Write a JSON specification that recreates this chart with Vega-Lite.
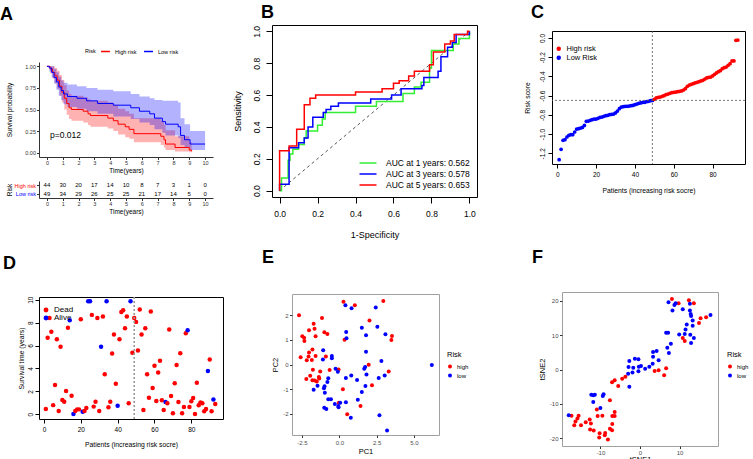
{
"$schema":"https://vega.github.io/schema/vega-lite/v6.json",
"padding":{"left":0,"top":0,"right":0,"bottom":0},
"background":"white",
"config":{
 "font":"Liberation Sans",
 "view":{"stroke":null},
 "axis":{"grid":false,"labelFont":"Liberation Sans","titleFont":"Liberation Sans","titleFontWeight":"normal","labelColor":"black","titleColor":"black","tickColor":"black","domainColor":"black","labelOverlap":false,"labelFlush":false},
 "legend":{"labelFont":"Liberation Sans","titleFont":"Liberation Sans","titleFontWeight":"normal","labelColor":"black","titleColor":"black"},
 "title":{"font":"Liberation Sans","fontSize":18,"fontWeight":"bold","anchor":"start","frame":"group","color":"black"}
},
"resolve":{"scale":{"color":"independent"}},
"concat":[
 {"resolve":{"scale":{"color":"independent"}},
  "concat":[
  {"resolve":{"scale":{"color":"independent"}},
   "vconcat":[
   {"width":1,"height":4,"view":{"stroke":"transparent"},"data":{"values":[]},"mark":"point"},
   {"resolve":{"scale":{"color":"independent"}},
    "vconcat":[
   {"width":174,"height":95,
    "title":{"text":"A","dx":-39,"offset":22},
    "layer":[
     {"data":{"values":[
      {"g":"High risk","t":0,"s":1,"lo":1,"hi":1},{"g":"High risk","t":0.2,"s":0.97,"lo":0.92,"hi":1},{"g":"High risk","t":0.35,"s":0.93,"lo":0.86,"hi":1},{"g":"High risk","t":0.5,"s":0.89,"lo":0.8,"hi":0.98},{"g":"High risk","t":0.65,"s":0.84,"lo":0.74,"hi":0.95},{"g":"High risk","t":0.8,"s":0.77,"lo":0.66,"hi":0.9},{"g":"High risk","t":0.95,"s":0.7,"lo":0.58,"hi":0.84},{"g":"High risk","t":1.1,"s":0.63,"lo":0.5,"hi":0.78},{"g":"High risk","t":1.25,"s":0.57,"lo":0.44,"hi":0.72},{"g":"High risk","t":1.4,"s":0.52,"lo":0.39,"hi":0.68},{"g":"High risk","t":1.55,"s":0.5,"lo":0.37,"hi":0.66},{"g":"High risk","t":2.3,"s":0.48,"lo":0.35,"hi":0.64},{"g":"High risk","t":2.6,"s":0.45,"lo":0.32,"hi":0.62},{"g":"High risk","t":2.75,"s":0.43,"lo":0.3,"hi":0.6},{"g":"High risk","t":3.85,"s":0.4,"lo":0.28,"hi":0.58},{"g":"High risk","t":4.2,"s":0.37,"lo":0.25,"hi":0.55},{"g":"High risk","t":4.5,"s":0.33,"lo":0.21,"hi":0.51},{"g":"High risk","t":4.95,"s":0.3,"lo":0.18,"hi":0.48},{"g":"High risk","t":5.2,"s":0.27,"lo":0.16,"hi":0.45},{"g":"High risk","t":5.5,"s":0.22,"lo":0.12,"hi":0.4},{"g":"High risk","t":7.2,"s":0.19,"lo":0.09,"hi":0.37},{"g":"High risk","t":7.4,"s":0.15,"lo":0.06,"hi":0.32},{"g":"High risk","t":7.5,"s":0.1,"lo":0.03,"hi":0.26},{"g":"High risk","t":8.1,"s":0.06,"lo":0.015,"hi":0.19},{"g":"High risk","t":9.0,"s":0.03,"lo":0.005,"hi":0.12},{"g":"High risk","t":9.15,"s":0.015,"lo":0,"hi":0.1},
      {"g":"Low risk","t":0,"s":1,"lo":1,"hi":1},{"g":"Low risk","t":0.15,"s":0.98,"lo":0.94,"hi":1},{"g":"Low risk","t":0.3,"s":0.93,"lo":0.87,"hi":1},{"g":"Low risk","t":0.45,"s":0.87,"lo":0.8,"hi":0.97},{"g":"Low risk","t":0.6,"s":0.82,"lo":0.73,"hi":0.93},{"g":"Low risk","t":0.75,"s":0.76,"lo":0.66,"hi":0.88},{"g":"Low risk","t":0.9,"s":0.72,"lo":0.61,"hi":0.84},{"g":"Low risk","t":1.05,"s":0.68,"lo":0.56,"hi":0.81},{"g":"Low risk","t":1.3,"s":0.65,"lo":0.53,"hi":0.79},{"g":"Low risk","t":1.9,"s":0.63,"lo":0.51,"hi":0.77},{"g":"Low risk","t":2.5,"s":0.6,"lo":0.48,"hi":0.75},{"g":"Low risk","t":3.2,"s":0.57,"lo":0.45,"hi":0.73},{"g":"Low risk","t":4.2,"s":0.55,"lo":0.42,"hi":0.71},{"g":"Low risk","t":5.3,"s":0.52,"lo":0.39,"hi":0.68},{"g":"Low risk","t":5.85,"s":0.48,"lo":0.35,"hi":0.65},{"g":"Low risk","t":6.5,"s":0.45,"lo":0.32,"hi":0.63},{"g":"Low risk","t":6.8,"s":0.4,"lo":0.27,"hi":0.61},{"g":"Low risk","t":7.3,"s":0.36,"lo":0.23,"hi":0.6},{"g":"Low risk","t":7.5,"s":0.33,"lo":0.2,"hi":0.6},{"g":"Low risk","t":8.3,"s":0.3,"lo":0.17,"hi":0.58},{"g":"Low risk","t":8.45,"s":0.2,"lo":0.09,"hi":0.4},{"g":"Low risk","t":8.7,"s":0.15,"lo":0.06,"hi":0.33},{"g":"Low risk","t":9.05,"s":0.1,"lo":0.03,"hi":0.25},{"g":"Low risk","t":10,"s":0.1,"lo":0.03,"hi":0.25}
     ]},
     "layer":[
      {"mark":{"type":"area","interpolate":"step-after","fillOpacity":0.3},
       "encoding":{
        "x":{"field":"t","type":"quantitative","scale":{"domain":[-0.5,10.5],"nice":false,"zero":false},"axis":{"values":[0,1,2,3,4,5,6,7,8,9,10],"labelOverlap":false,"title":"Time(years)","labelFontSize":5.5,"titleFontSize":6.5,"tickSize":2.5,"labelPadding":1,"titlePadding":1,"domainColor":"#333333","tickColor":"#333333","labelColor":"#333333"}},
        "y":{"field":"lo","type":"quantitative","scale":{"domain":[-0.05,1.05],"nice":false,"zero":false},"axis":{"values":[0,0.25,0.5,0.75,1],"labelOverlap":false,"format":".2f","title":"Survival probability","labelFontSize":5.5,"titleFontSize":6.5,"tickSize":2.5,"labelPadding":1,"titlePadding":12,"domainColor":"#333333","tickColor":"#333333","labelColor":"#333333"}},
        "y2":{"field":"hi"},
        "color":{"field":"g","type":"nominal","scale":{"domain":["High risk","Low risk"],"range":["#FF0000","#0000FF"]},"legend":{"orient":"none","legendX":46,"legendY":-16,"direction":"horizontal","title":"Risk","titleOrient":"left","titleFontSize":5.5,"labelFontSize":5.5,"symbolType":"stroke","symbolSize":80,"symbolStrokeWidth":1.5,"columnPadding":4,"titlePadding":4}}
       }},
      {"mark":{"type":"line","interpolate":"step-after","strokeWidth":1},
       "encoding":{
        "x":{"field":"t","type":"quantitative","axis":{"values":[0,1,2,3,4,5,6,7,8,9,10],"labelOverlap":false,"title":"Time(years)","labelFontSize":5.5,"titleFontSize":6.5,"tickSize":2.5,"labelPadding":1,"titlePadding":1,"domainColor":"#333333","tickColor":"#333333","labelColor":"#333333"}},
        "y":{"field":"s","type":"quantitative","axis":{"values":[0,0.25,0.5,0.75,1],"labelOverlap":false,"format":".2f","title":"Survival probability","labelFontSize":5.5,"titleFontSize":6.5,"tickSize":2.5,"labelPadding":1,"titlePadding":12,"domainColor":"#333333","tickColor":"#333333","labelColor":"#333333"}},
        "color":{"field":"g","type":"nominal"}
       }}
     ]},
     {"data":{"values":[{"t":0.2,"s":0.2,"label":"p=0.012"}]},
      "mark":{"type":"text","align":"left","baseline":"middle","fontSize":8.5,"font":"Liberation Sans"},
      "encoding":{
       "x":{"field":"t","type":"quantitative","axis":{"values":[0,1,2,3,4,5,6,7,8,9,10],"labelOverlap":false,"title":"Time(years)","labelFontSize":5.5,"titleFontSize":6.5,"tickSize":2.5,"labelPadding":1,"titlePadding":1,"domainColor":"#333333","tickColor":"#333333","labelColor":"#333333"}},
       "y":{"field":"s","type":"quantitative","axis":{"values":[0,0.25,0.5,0.75,1],"labelOverlap":false,"format":".2f","title":"Survival probability","labelFontSize":5.5,"titleFontSize":6.5,"tickSize":2.5,"labelPadding":1,"titlePadding":12,"domainColor":"#333333","tickColor":"#333333","labelColor":"#333333"}},
       "text":{"field":"label"}}}
    ]},
   {"width":174,"height":17,
    "data":{"values":[
     {"g":"High risk","t":0,"n":44},{"g":"High risk","t":1,"n":30},{"g":"High risk","t":2,"n":20},{"g":"High risk","t":3,"n":17},{"g":"High risk","t":4,"n":14},{"g":"High risk","t":5,"n":10},{"g":"High risk","t":6,"n":8},{"g":"High risk","t":7,"n":7},{"g":"High risk","t":8,"n":3},{"g":"High risk","t":9,"n":1},{"g":"High risk","t":10,"n":0},
     {"g":"Low risk","t":0,"n":49},{"g":"Low risk","t":1,"n":34},{"g":"Low risk","t":2,"n":29},{"g":"Low risk","t":3,"n":26},{"g":"Low risk","t":4,"n":25},{"g":"Low risk","t":5,"n":25},{"g":"Low risk","t":6,"n":21},{"g":"Low risk","t":7,"n":17},{"g":"Low risk","t":8,"n":14},{"g":"Low risk","t":9,"n":5},{"g":"Low risk","t":10,"n":0}
    ]},
    "mark":{"type":"text","fontSize":6,"font":"Liberation Sans","baseline":"middle"},
    "encoding":{
     "x":{"field":"t","type":"quantitative","scale":{"domain":[-0.5,10.5],"nice":false,"zero":false},"axis":{"values":[0,1,2,3,4,5,6,7,8,9,10],"labelOverlap":false,"title":"Time(years)","labelFontSize":5.5,"titleFontSize":6.5,"tickSize":2.5,"labelPadding":1,"titlePadding":1,"domainColor":"#333333","tickColor":"#333333","labelColor":"#333333"}},
     "y":{"field":"g","type":"nominal","sort":["High risk","Low risk"],"scale":{"type":"point","padding":0.5},"axis":{"title":"Risk","labelFontSize":5.5,"titleFontSize":6.5,"tickSize":2.5,"labelPadding":1,"titlePadding":2,"domainColor":"#333333","tickColor":"#333333","labelColor":{"condition":{"test":"datum.value === 'High risk'","value":"#FF0000"},"value":"#0000FF"}}},
     "text":{"field":"n","type":"quantitative"}
    }}
   ],"spacing":7}
  ],"spacing":0},
  {"resolve":{"scale":{"color":"independent"}},
   "concat":[
   {"resolve":{"scale":{"color":"independent"}},
    "vconcat":[
    {"width":1,"height":1,"view":{"stroke":"transparent"},"data":{"values":[]},"mark":"point"},
    {"width":205,"height":172,
    "view":{"stroke":"black","strokeWidth":1},
    "title":{"text":"B","dx":-11,"offset":3},
    "layer":[
     {"data":{"values":[{"x":0,"y":0,"x2":1,"y2":1}]},
      "mark":{"type":"rule","strokeDash":[3,3],"color":"#444444","strokeWidth":0.9},
      "encoding":{
       "x":{"field":"x","type":"quantitative","scale":{"domain":[-0.04,1.04],"nice":false,"zero":false},"axis":{"values":[0,0.2,0.4,0.6,0.8,1],"labelOverlap":false,"format":".1f","domain":false,"tickSize":6,"labelFontSize":8.5,"labelPadding":6,"title":"1-Specificity","titleFontSize":9,"titlePadding":13}},
       "y":{"field":"y","type":"quantitative","scale":{"domain":[-0.04,1.04],"nice":false,"zero":false},"axis":{"values":[0,0.2,0.4,0.6,0.8,1],"labelOverlap":false,"format":".1f","domain":false,"tickSize":6,"labelFontSize":8.5,"labelPadding":5,"labelAngle":-90,"labelAlign":"center","labelBaseline":"bottom","title":"Sensitivity","titleFontSize":9,"titlePadding":10}},
       "x2":{"field":"x2"},"y2":{"field":"y2"}}},
     {"data":{"values":[
      {"c":"AUC at 1 years: 0.562","i":0,"x":0,"y":0},{"c":"AUC at 1 years: 0.562","i":1,"x":0.01,"y":0.08},{"c":"AUC at 1 years: 0.562","i":2,"x":0.045,"y":0.19},{"c":"AUC at 1 years: 0.562","i":3,"x":0.055,"y":0.23},{"c":"AUC at 1 years: 0.562","i":4,"x":0.07,"y":0.26},{"c":"AUC at 1 years: 0.562","i":5,"x":0.1,"y":0.29},{"c":"AUC at 1 years: 0.562","i":6,"x":0.13,"y":0.33},{"c":"AUC at 1 years: 0.562","i":7,"x":0.14,"y":0.375},{"c":"AUC at 1 years: 0.562","i":8,"x":0.2,"y":0.41},{"c":"AUC at 1 years: 0.562","i":9,"x":0.225,"y":0.45},{"c":"AUC at 1 years: 0.562","i":10,"x":0.24,"y":0.49},{"c":"AUC at 1 years: 0.562","i":11,"x":0.4,"y":0.53},{"c":"AUC at 1 years: 0.562","i":12,"x":0.51,"y":0.56},{"c":"AUC at 1 years: 0.562","i":13,"x":0.65,"y":0.61},{"c":"AUC at 1 years: 0.562","i":14,"x":0.71,"y":0.65},{"c":"AUC at 1 years: 0.562","i":15,"x":0.745,"y":0.68},{"c":"AUC at 1 years: 0.562","i":16,"x":0.79,"y":0.77},{"c":"AUC at 1 years: 0.562","i":17,"x":0.8,"y":0.88},{"c":"AUC at 1 years: 0.562","i":18,"x":0.915,"y":0.92},{"c":"AUC at 1 years: 0.562","i":19,"x":0.945,"y":0.955},{"c":"AUC at 1 years: 0.562","i":20,"x":1,"y":0.97},{"c":"AUC at 1 years: 0.562","i":21,"x":1,"y":1},
      {"c":"AUC at 3 years: 0.578","i":0,"x":0,"y":0},{"c":"AUC at 3 years: 0.578","i":1,"x":0,"y":0.04},{"c":"AUC at 3 years: 0.578","i":2,"x":0.05,"y":0.27},{"c":"AUC at 3 years: 0.578","i":3,"x":0.1,"y":0.3},{"c":"AUC at 3 years: 0.578","i":4,"x":0.13,"y":0.33},{"c":"AUC at 3 years: 0.578","i":5,"x":0.15,"y":0.4},{"c":"AUC at 3 years: 0.578","i":6,"x":0.175,"y":0.46},{"c":"AUC at 3 years: 0.578","i":7,"x":0.23,"y":0.49},{"c":"AUC at 3 years: 0.578","i":8,"x":0.245,"y":0.51},{"c":"AUC at 3 years: 0.578","i":9,"x":0.27,"y":0.53},{"c":"AUC at 3 years: 0.578","i":10,"x":0.31,"y":0.55},{"c":"AUC at 3 years: 0.578","i":11,"x":0.48,"y":0.575},{"c":"AUC at 3 years: 0.578","i":12,"x":0.59,"y":0.6},{"c":"AUC at 3 years: 0.578","i":13,"x":0.64,"y":0.64},{"c":"AUC at 3 years: 0.578","i":14,"x":0.75,"y":0.66},{"c":"AUC at 3 years: 0.578","i":15,"x":0.76,"y":0.71},{"c":"AUC at 3 years: 0.578","i":16,"x":0.835,"y":0.75},{"c":"AUC at 3 years: 0.578","i":17,"x":0.85,"y":0.84},{"c":"AUC at 3 years: 0.578","i":18,"x":0.885,"y":0.9},{"c":"AUC at 3 years: 0.578","i":19,"x":0.91,"y":0.93},{"c":"AUC at 3 years: 0.578","i":20,"x":0.93,"y":0.98},{"c":"AUC at 3 years: 0.578","i":21,"x":1,"y":1},
      {"c":"AUC at 5 years: 0.653","i":0,"x":0,"y":0},{"c":"AUC at 5 years: 0.653","i":1,"x":0,"y":0.25},{"c":"AUC at 5 years: 0.653","i":2,"x":0.05,"y":0.28},{"c":"AUC at 5 years: 0.653","i":3,"x":0.09,"y":0.385},{"c":"AUC at 5 years: 0.653","i":4,"x":0.13,"y":0.54},{"c":"AUC at 5 years: 0.653","i":5,"x":0.16,"y":0.58},{"c":"AUC at 5 years: 0.653","i":6,"x":0.19,"y":0.6},{"c":"AUC at 5 years: 0.653","i":7,"x":0.4,"y":0.62},{"c":"AUC at 5 years: 0.653","i":8,"x":0.54,"y":0.64},{"c":"AUC at 5 years: 0.653","i":9,"x":0.6,"y":0.675},{"c":"AUC at 5 years: 0.653","i":10,"x":0.63,"y":0.69},{"c":"AUC at 5 years: 0.653","i":11,"x":0.68,"y":0.72},{"c":"AUC at 5 years: 0.653","i":12,"x":0.71,"y":0.75},{"c":"AUC at 5 years: 0.653","i":13,"x":0.79,"y":0.79},{"c":"AUC at 5 years: 0.653","i":14,"x":0.81,"y":0.87},{"c":"AUC at 5 years: 0.653","i":15,"x":0.87,"y":0.92},{"c":"AUC at 5 years: 0.653","i":16,"x":0.9,"y":0.94},{"c":"AUC at 5 years: 0.653","i":17,"x":0.92,"y":0.98},{"c":"AUC at 5 years: 0.653","i":18,"x":0.99,"y":1},{"c":"AUC at 5 years: 0.653","i":19,"x":1,"y":1}
     ]},
      "mark":{"type":"line","interpolate":"step-after","strokeWidth":1.5},
      "encoding":{
       "x":{"field":"x","type":"quantitative","axis":{"values":[0,0.2,0.4,0.6,0.8,1],"labelOverlap":false,"format":".1f","domain":false,"tickSize":6,"labelFontSize":8.5,"labelPadding":6,"title":"1-Specificity","titleFontSize":9,"titlePadding":13}},
       "y":{"field":"y","type":"quantitative","axis":{"values":[0,0.2,0.4,0.6,0.8,1],"labelOverlap":false,"format":".1f","domain":false,"tickSize":6,"labelFontSize":8.5,"labelPadding":5,"labelAngle":-90,"labelAlign":"center","labelBaseline":"bottom","title":"Sensitivity","titleFontSize":9,"titlePadding":10}},
       "order":{"field":"i","type":"quantitative"},
       "color":{"field":"c","type":"nominal","scale":{"domain":["AUC at 1 years: 0.562","AUC at 3 years: 0.578","AUC at 5 years: 0.653"],"range":["#33EE33","#0000FF","#FF0000"]},"legend":{"orient":"bottom-right","title":null,"symbolType":"M-1.7,0H1.7","symbolSize":100,"symbolStrokeWidth":1.5,"labelFontSize":8.5,"rowPadding":0,"offset":7,"padding":0,"labelOffset":12}}
      }}
    ]}],"spacing":0},
   {"resolve":{"scale":{"color":"independent"}},
    "vconcat":[
    {"width":1,"height":1,"view":{"stroke":"transparent"},"data":{"values":[]},"mark":"point"},
    {"width":193,"height":133,
    "view":{"stroke":"black","strokeWidth":1},
    "title":{"text":"C","dx":-21,"offset":9},
    "layer":[
     {"data":{"values":[
      {"i":1,"s":-1.266},{"i":2,"s":-1.158},{"i":3,"s":-1.065},{"i":4,"s":-1.058},{"i":5,"s":-1.03},{"i":6,"s":-1.013},{"i":7,"s":-1.006},{"i":8,"s":-1.006},{"i":9,"s":-0.978},{"i":10,"s":-0.947},{"i":11,"s":-0.944},{"i":12,"s":-0.937},{"i":13,"s":-0.93},{"i":14,"s":-0.91},{"i":15,"s":-0.867},{"i":16,"s":-0.864},{"i":17,"s":-0.857},{"i":18,"s":-0.85},{"i":19,"s":-0.843},{"i":20,"s":-0.843},{"i":21,"s":-0.836},{"i":22,"s":-0.826},{"i":23,"s":-0.822},{"i":24,"s":-0.815},{"i":25,"s":-0.808},{"i":26,"s":-0.805},{"i":27,"s":-0.798},{"i":28,"s":-0.794},{"i":29,"s":-0.791},{"i":30,"s":-0.78},{"i":31,"s":-0.76},{"i":32,"s":-0.735},{"i":33,"s":-0.718},{"i":34,"s":-0.715},{"i":35,"s":-0.711},{"i":36,"s":-0.711},{"i":37,"s":-0.708},{"i":38,"s":-0.704},{"i":39,"s":-0.701},{"i":40,"s":-0.694},{"i":41,"s":-0.687},{"i":42,"s":-0.68},{"i":43,"s":-0.676},{"i":44,"s":-0.669},{"i":45,"s":-0.669},{"i":46,"s":-0.662},{"i":47,"s":-0.659},{"i":48,"s":-0.652},{"i":49,"s":-0.649},
      {"i":50,"s":-0.638},{"i":51,"s":-0.624},{"i":52,"s":-0.617},{"i":53,"s":-0.614},{"i":54,"s":-0.607},{"i":55,"s":-0.6},{"i":56,"s":-0.59},{"i":57,"s":-0.583},{"i":58,"s":-0.576},{"i":59,"s":-0.569},{"i":60,"s":-0.565},{"i":61,"s":-0.562},{"i":62,"s":-0.558},{"i":63,"s":-0.555},{"i":64,"s":-0.551},{"i":65,"s":-0.541},{"i":66,"s":-0.527},{"i":67,"s":-0.503},{"i":68,"s":-0.489},{"i":69,"s":-0.482},{"i":70,"s":-0.475},{"i":71,"s":-0.468},{"i":72,"s":-0.461},{"i":73,"s":-0.454},{"i":74,"s":-0.447},{"i":75,"s":-0.44},{"i":76,"s":-0.427},{"i":77,"s":-0.416},{"i":78,"s":-0.409},{"i":79,"s":-0.406},{"i":80,"s":-0.395},{"i":81,"s":-0.378},{"i":82,"s":-0.364},{"i":83,"s":-0.35},{"i":84,"s":-0.34},{"i":85,"s":-0.319},{"i":86,"s":-0.309},{"i":87,"s":-0.302},{"i":88,"s":-0.284},{"i":89,"s":-0.267},{"i":90,"s":-0.239},{"i":91,"s":-0.239},{"i":92,"s":-0.024},{"i":93,"s":-0.021}
     ]},
      "transform":[{"calculate":"datum.i <= 49 ? 'Low Risk' : 'High risk'","as":"r"}],
      "mark":{"type":"circle","size":14,"opacity":1},
      "encoding":{
       "x":{"field":"i","type":"quantitative","scale":{"domain":[-2.68,96.68],"nice":false,"zero":false},"axis":{"values":[0,20,40,60,80],"labelOverlap":false,"domain":false,"tickSize":4,"labelFontSize":6.5,"labelPadding":3,"title":"Patients (increasing risk socre)","titleFontSize":6.8,"titlePadding":10}},
       "y":{"field":"s","type":"quantitative","scale":{"domain":[-1.311,0.073],"nice":false,"zero":false},"axis":{"values":[-1.2,-1,-0.8,-0.6,-0.4,-0.2,0],"labelOverlap":false,"format":".1f","labelExpr":"replace(datum.label, '\u2212', '-')","domain":false,"tickSize":4,"labelFontSize":6.5,"labelPadding":3,"labelAngle":-90,"labelAlign":"center","labelBaseline":"bottom","title":"Risk score","titleFontSize":6.8,"titlePadding":9}},
       "color":{"field":"r","type":"nominal","scale":{"domain":["High risk","Low Risk"],"range":["#FF0000","#0000FF"]},"legend":{"orient":"none","legendX":3,"legendY":14,"title":null,"labelFontSize":7.5,"symbolSize":20,"symbolType":"circle","padding":0,"rowPadding":0}}
      }},
     {"data":{"values":[{"i":49}]},"mark":{"type":"rule","strokeDash":[2,2],"color":"#555555","strokeWidth":0.8},"encoding":{"x":{"field":"i","type":"quantitative","axis":{"values":[0,20,40,60,80],"labelOverlap":false,"domain":false,"tickSize":4,"labelFontSize":6.5,"labelPadding":3,"title":"Patients (increasing risk socre)","titleFontSize":6.8,"titlePadding":10}}}},
     {"data":{"values":[{"s":-0.649}]},"mark":{"type":"rule","strokeDash":[2,2],"color":"#555555","strokeWidth":0.8},"encoding":{"y":{"field":"s","type":"quantitative","axis":{"values":[-1.2,-1,-0.8,-0.6,-0.4,-0.2,0],"labelOverlap":false,"format":".1f","labelExpr":"replace(datum.label, '\u2212', '-')","domain":false,"tickSize":4,"labelFontSize":6.5,"labelPadding":3,"labelAngle":-90,"labelAlign":"center","labelBaseline":"bottom","title":"Risk score","titleFontSize":6.8,"titlePadding":9}}}}
    ]}],"spacing":0}
  ],"columns":2,"align":"none","spacing":45}
 ],"columns":2,"align":"none","spacing":19},
 {"resolve":{"scale":{"color":"independent"}},
  "concat":[
  {"resolve":{"scale":{"color":"independent"}},
   "vconcat":[
   {"width":1,"height":11,"view":{"stroke":"transparent"},"data":{"values":[]},"mark":"point"},
   {"width":184,"height":122,
   "view":{"stroke":"black","strokeWidth":1},
   "title":{"text":"D","dx":-36,"offset":23},
   "layer":[
    {"data":{"values":[
     {"i":1,"y":0.46,"st":"Dead"},{"i":2,"y":6.67,"st":"Dead"},{"i":3,"y":8.4,"st":"Dead"},{"i":4,"y":7.2,"st":"Dead"},{"i":5,"y":0.8,"st":"Dead"},{"i":6,"y":2.55,"st":"Dead"},{"i":7,"y":6.55,"st":"Dead"},{"i":8,"y":0.29,"st":"Dead"},{"i":9,"y":5.9,"st":"Dead"},{"i":10,"y":1.25,"st":"Dead"},{"i":11,"y":1.1,"st":"Dead"},{"i":12,"y":2.03,"st":"Dead"},{"i":13,"y":7.54,"st":"Dead"},{"i":14,"y":8.2,"st":"Alive"},{"i":15,"y":1.62,"st":"Dead"},{"i":16,"y":0.03,"st":"Alive"},{"i":17,"y":0.29,"st":"Dead"},{"i":18,"y":0.43,"st":"Dead"},{"i":19,"y":0.43,"st":"Dead"},{"i":20,"y":8.29,"st":"Dead"},{"i":21,"y":0.23,"st":"Alive"},{"i":22,"y":0.29,"st":"Dead"},{"i":23,"y":0.55,"st":"Dead"},{"i":24,"y":9.86,"st":"Alive"},{"i":25,"y":9.86,"st":"Alive"},{"i":26,"y":8.67,"st":"Dead"},{"i":27,"y":0.67,"st":"Dead"},{"i":28,"y":1.1,"st":"Dead"},{"i":29,"y":8.4,"st":"Dead"},{"i":30,"y":0.29,"st":"Dead"},{"i":31,"y":5.9,"st":"Alive"},{"i":32,"y":8.52,"st":"Dead"},{"i":33,"y":3.5,"st":"Dead"},{"i":34,"y":9.86,"st":"Alive"},{"i":35,"y":0.61,"st":"Dead"},{"i":36,"y":1.1,"st":"Dead"},{"i":37,"y":5.3,"st":"Dead"},{"i":38,"y":6.96,"st":"Dead"},{"i":39,"y":2.67,"st":"Dead"},{"i":40,"y":0.75,"st":"Alive"},{"i":41,"y":6.55,"st":"Dead"},{"i":42,"y":8.93,"st":"Dead"},{"i":43,"y":9.07,"st":"Dead"},{"i":44,"y":7.5,"st":"Dead"},{"i":45,"y":8.52,"st":"Dead"},{"i":46,"y":0.96,"st":"Dead"},{"i":47,"y":9.86,"st":"Alive"},{"i":48,"y":5.36,"st":"Dead"},{"i":49,"y":8.4,"st":"Dead"},{"i":50,"y":8.06,"st":"Dead"},{"i":51,"y":5.56,"st":"Dead"},{"i":52,"y":9.14,"st":"Dead"},{"i":53,"y":6.96,"st":"Dead"},{"i":54,"y":0.38,"st":"Dead"},{"i":55,"y":7.5,"st":"Dead"},{"i":56,"y":3.5,"st":"Dead"},{"i":57,"y":1.45,"st":"Dead"},{"i":58,"y":8.96,"st":"Dead"},{"i":59,"y":2.3,"st":"Dead"},{"i":60,"y":4.23,"st":"Dead"},{"i":61,"y":1.16,"st":"Dead"},{"i":62,"y":3.65,"st":"Dead"},{"i":63,"y":4.67,"st":"Dead"},{"i":64,"y":1.22,"st":"Dead"},{"i":65,"y":0.38,"st":"Dead"},{"i":66,"y":1.07,"st":"Alive"},{"i":67,"y":0.96,"st":"Dead"},{"i":68,"y":7.4,"st":"Dead"},{"i":69,"y":1.59,"st":"Dead"},{"i":70,"y":0.09,"st":"Dead"},{"i":71,"y":2.7,"st":"Dead"},{"i":72,"y":4.3,"st":"Dead"},{"i":73,"y":1.07,"st":"Dead"},{"i":74,"y":5.33,"st":"Dead"},{"i":75,"y":0.09,"st":"Dead"},{"i":76,"y":0.64,"st":"Dead"},{"i":77,"y":7.07,"st":"Dead"},{"i":78,"y":7.33,"st":"Alive"},{"i":79,"y":0.64,"st":"Dead"},{"i":80,"y":1.13,"st":"Dead"},{"i":81,"y":1.42,"st":"Dead"},{"i":82,"y":0.03,"st":"Dead"},{"i":83,"y":2.75,"st":"Dead"},{"i":84,"y":0.78,"st":"Dead"},{"i":85,"y":1.04,"st":"Dead"},{"i":86,"y":0.96,"st":"Dead"},{"i":87,"y":0.26,"st":"Dead"},{"i":88,"y":0.46,"st":"Dead"},{"i":89,"y":3.77,"st":"Alive"},{"i":90,"y":4.78,"st":"Dead"},{"i":91,"y":0.26,"st":"Dead"},{"i":92,"y":1.3,"st":"Alive"},{"i":93,"y":0.9,"st":"Dead"}
    ]},
     "mark":{"type":"circle","size":20,"opacity":1},
     "encoding":{
      "x":{"field":"i","type":"quantitative","scale":{"domain":[-2.7,97.2],"nice":false,"zero":false},"axis":{"values":[0,20,40,60,80],"labelOverlap":false,"domain":false,"tickSize":4,"labelFontSize":6.5,"labelPadding":3,"title":"Patients (increasing risk socre)","titleFontSize":6.8,"titlePadding":9}},
      "y":{"field":"y","type":"quantitative","scale":{"domain":[-0.41,10.23],"nice":false,"zero":false},"axis":{"values":[0,2,4,6,8,10],"labelOverlap":false,"domain":false,"tickSize":4,"labelFontSize":6.5,"labelPadding":2,"labelAngle":-90,"labelAlign":"center","labelBaseline":"bottom","title":"Survival time (years)","titleFontSize":6.8,"titlePadding":3}},
      "color":{"field":"st","type":"nominal","scale":{"domain":["Dead","Alive"],"range":["#FF0000","#0000FF"]},"legend":{"orient":"none","legendX":3,"legendY":9,"title":null,"labelFontSize":8,"symbolSize":24,"symbolType":"circle","padding":0,"rowPadding":0}}
     }},
    {"data":{"values":[{"i":49}]},"mark":{"type":"rule","strokeDash":[2,2],"color":"#9A9A9A","strokeWidth":1.6},"encoding":{"x":{"field":"i","type":"quantitative","axis":{"values":[0,20,40,60,80],"labelOverlap":false,"domain":false,"tickSize":4,"labelFontSize":6.5,"labelPadding":3,"title":"Patients (increasing risk socre)","titleFontSize":6.8,"titlePadding":9}}}}
   ]}],"spacing":0},
  {"resolve":{"scale":{"color":"independent"}},
   "concat":[
   {"resolve":{"scale":{"color":"independent"}},
    "vconcat":[
    {"width":1,"height":5,"view":{"stroke":"transparent"},"data":{"values":[]},"mark":"point"},
    {"width":147,"height":141,
    "view":{"stroke":"#A0A0A0","strokeWidth":1},
    "title":{"text":"E","dx":-30,"offset":27},
    "data":{"values":[
     {"x":0.28,"y":2.54,"g":"high"},{"x":1.04,"y":2.4,"g":"high"},{"x":2.95,"y":2.57,"g":"high"},{"x":-2.7,"y":1.99,"g":"high"},{"x":-1.16,"y":1.88,"g":"high"},{"x":2.02,"y":1.78,"g":"high"},{"x":-1.72,"y":1.65,"g":"high"},{"x":-1.66,"y":1.45,"g":"high"},{"x":-2.03,"y":1.38,"g":"high"},{"x":-1.0,"y":1.3,"g":"high"},{"x":-0.8,"y":1.23,"g":"high"},{"x":-2.48,"y":1.14,"g":"high"},{"x":-2.36,"y":1.08,"g":"high"},{"x":-1.59,"y":1.14,"g":"high"},{"x":-2.34,"y":0.95,"g":"high"},{"x":0.35,"y":1.0,"g":"high"},{"x":3.53,"y":1.15,"g":"high"},{"x":3.49,"y":0.99,"g":"high"},{"x":-1.8,"y":0.61,"g":"high"},{"x":-2.03,"y":0.49,"g":"high"},{"x":-2.59,"y":0.29,"g":"high"},{"x":-2.06,"y":0.32,"g":"high"},{"x":-1.59,"y":0.34,"g":"high"},{"x":-0.9,"y":0.32,"g":"high"},{"x":-2.18,"y":0.17,"g":"high"},{"x":-1.84,"y":0.18,"g":"high"},{"x":-1.77,"y":-0.21,"g":"high"},{"x":-0.65,"y":-0.22,"g":"high"},{"x":-0.05,"y":-0.2,"g":"high"},{"x":-1.28,"y":-0.28,"g":"high"},{"x":1.97,"y":-0.01,"g":"high"},{"x":3.31,"y":-0.28,"g":"high"},{"x":-1.95,"y":-0.45,"g":"high"},{"x":-1.37,"y":-0.51,"g":"high"},{"x":-1.35,"y":-0.57,"g":"high"},{"x":-2.21,"y":-0.59,"g":"high"},{"x":-1.8,"y":-0.64,"g":"high"},{"x":-1.65,"y":-0.65,"g":"high"},{"x":-1.51,"y":-0.69,"g":"high"},{"x":2.19,"y":-0.84,"g":"high"},{"x":0.24,"y":-1.0,"g":"high"},{"x":-0.03,"y":-1.55,"g":"high"},{"x":1.42,"y":-1.68,"g":"high"},{"x":0.53,"y":-2.01,"g":"high"},
     {"x":0.41,"y":2.4,"g":"low"},{"x":0.82,"y":2.27,"g":"low"},{"x":2.44,"y":2.3,"g":"low"},{"x":2.55,"y":1.53,"g":"low"},{"x":1.51,"y":1.49,"g":"low"},{"x":0.46,"y":1.31,"g":"low"},{"x":0.48,"y":1.06,"g":"low"},{"x":1.79,"y":1.18,"g":"low"},{"x":3.09,"y":1.22,"g":"low"},{"x":-1.08,"y":0.58,"g":"low"},{"x":1.79,"y":0.52,"g":"low"},{"x":-0.5,"y":0.34,"g":"low"},{"x":-0.5,"y":0.25,"g":"low"},{"x":-1.1,"y":0.2,"g":"low"},{"x":2.82,"y":0.14,"g":"low"},{"x":-0.25,"y":-0.17,"g":"low"},{"x":-0.1,"y":-0.29,"g":"low"},{"x":1.73,"y":-0.1,"g":"low"},{"x":1.67,"y":-0.17,"g":"low"},{"x":1.82,"y":-0.4,"g":"low"},{"x":0.8,"y":-0.44,"g":"low"},{"x":0.44,"y":-0.55,"g":"low"},{"x":2.64,"y":-0.55,"g":"low"},{"x":3.04,"y":-0.44,"g":"low"},{"x":-0.74,"y":-0.56,"g":"low"},{"x":-0.8,"y":-0.71,"g":"low"},{"x":1.19,"y":-0.63,"g":"low"},{"x":-1.46,"y":-0.86,"g":"low"},{"x":1.75,"y":-0.87,"g":"low"},{"x":-0.99,"y":-0.88,"g":"low"},{"x":-1.03,"y":-0.96,"g":"low"},{"x":-1.72,"y":-1.02,"g":"low"},{"x":-0.97,"y":-1.14,"g":"low"},{"x":1.51,"y":-1.11,"g":"low"},{"x":-0.74,"y":-1.4,"g":"low"},{"x":-0.56,"y":-1.4,"g":"low"},{"x":-0.3,"y":-1.6,"g":"low"},{"x":0.06,"y":-1.55,"g":"low"},{"x":0.44,"y":-1.53,"g":"low"},{"x":1.24,"y":-1.43,"g":"low"},{"x":-0.05,"y":-1.73,"g":"low"},{"x":-0.07,"y":-1.68,"g":"low"},{"x":-1.01,"y":-1.75,"g":"low"},{"x":-0.87,"y":-1.8,"g":"low"},{"x":0.77,"y":-2.15,"g":"low"},{"x":2.69,"y":-2.05,"g":"low"},{"x":3.2,"y":-2.67,"g":"low"},{"x":6.2,"y":-0.02,"g":"low"}
    ]},
    "mark":{"type":"circle","size":16,"opacity":1},
    "encoding":{
     "x":{"field":"x","type":"quantitative","scale":{"domain":[-3.17,6.68],"nice":false,"zero":false},"axis":{"values":[-2.5,0,2.5,5],"labelOverlap":false,"format":".1f","labelExpr":"replace(datum.label, '\u2212', '-')","tickSize":2.5,"tickColor":"#333333","domain":false,"labelFontSize":6,"labelColor":"#4D4D4D","labelPadding":1.5,"title":"PC1","titleFontSize":7.5,"titlePadding":2}},
     "y":{"field":"y","type":"quantitative","scale":{"domain":[-2.85,2.85],"nice":false,"zero":false},"axis":{"values":[-2,-1,0,1,2],"labelOverlap":false,"labelExpr":"replace(datum.label, '\u2212', '-')","tickSize":2.5,"tickColor":"#333333","domain":false,"labelFontSize":6,"labelColor":"#4D4D4D","labelPadding":1.5,"title":"PC2","titleFontSize":7.5,"titlePadding":3}},
     "color":{"field":"g","type":"nominal","scale":{"domain":["high","low"],"range":["#FF0000","#0000FF"]},"legend":{"orient":"none","legendX":155,"legendY":57,"title":"Risk","titleFontSize":7.5,"labelFontSize":6,"symbolType":"circle","symbolSize":16,"rowPadding":3,"titlePadding":5}}
    }}],"spacing":0},
   {"resolve":{"scale":{"color":"independent"}},
    "vconcat":[
    {"width":1,"height":5,"view":{"stroke":"transparent"},"data":{"values":[]},"mark":"point"},
    {"width":156,"height":154,
    "view":{"stroke":"#A0A0A0","strokeWidth":1},
    "title":{"text":"F","dx":-30,"offset":25},
    "data":{"values":[
     {"x":8.07,"y":20.48,"g":"high"},{"x":9.75,"y":19.23,"g":"high"},{"x":12.35,"y":20.1,"g":"high"},{"x":13.6,"y":19.2,"g":"high"},{"x":16.7,"y":15.2,"g":"high"},{"x":15.3,"y":14.9,"g":"high"},{"x":14.9,"y":13.5,"g":"high"},{"x":10.8,"y":9.15,"g":"high"},{"x":11.3,"y":8.3,"g":"high"},{"x":6.6,"y":0.34,"g":"high"},{"x":6.1,"y":-1.7,"g":"high"},{"x":4.7,"y":-0.24,"g":"high"},{"x":3.7,"y":-0.44,"g":"high"},{"x":-6.4,"y":-3.15,"g":"high"},{"x":-7.06,"y":-3.7,"g":"high"},{"x":-4.5,"y":-2.65,"g":"high"},{"x":-5.5,"y":-4.8,"g":"high"},{"x":-3.7,"y":-2.1,"g":"high"},{"x":-7.6,"y":-8.9,"g":"high"},{"x":-10.9,"y":-11.6,"g":"high"},{"x":-10.7,"y":-13.5,"g":"high"},{"x":-12.7,"y":-14.5,"g":"high"},{"x":-12.4,"y":-15.7,"g":"high"},{"x":-13.7,"y":-15.3,"g":"high"},{"x":-15.5,"y":-13.4,"g":"high"},{"x":-15.8,"y":-14.2,"g":"high"},{"x":-16.3,"y":-15.1,"g":"high"},{"x":-16.6,"y":-16.2,"g":"high"},{"x":-14.9,"y":-16.2,"g":"high"},{"x":-17.3,"y":-13.4,"g":"high"},{"x":-12.6,"y":-17.4,"g":"high"},{"x":-11.7,"y":-17.7,"g":"high"},{"x":-10.2,"y":-18.5,"g":"high"},{"x":-8.8,"y":-18.4,"g":"high"},{"x":-8.9,"y":-19.1,"g":"high"},{"x":-10.3,"y":-19.7,"g":"high"},{"x":-8.1,"y":-20.3,"g":"high"},{"x":-7.6,"y":-17.2,"g":"high"},{"x":-7.06,"y":-17.6,"g":"high"},{"x":-7.0,"y":-15.8,"g":"high"},{"x":-7.0,"y":-13.5,"g":"high"},{"x":-6.4,"y":-13.5,"g":"high"},{"x":-6.4,"y":-12.3,"g":"high"},{"x":-9.5,"y":-13.4,"g":"high"},
     {"x":7.2,"y":19.5,"g":"low"},{"x":8.7,"y":18.7,"g":"low"},{"x":9.0,"y":19.2,"g":"low"},{"x":8.2,"y":17.1,"g":"low"},{"x":10.8,"y":17.5,"g":"low"},{"x":12.6,"y":19.1,"g":"low"},{"x":12.6,"y":17.1,"g":"low"},{"x":12.8,"y":16.1,"g":"low"},{"x":12.9,"y":15.5,"g":"low"},{"x":13.3,"y":14.2,"g":"low"},{"x":13.3,"y":12.7,"g":"low"},{"x":11.8,"y":13.1,"g":"low"},{"x":11.5,"y":11.6,"g":"low"},{"x":11.3,"y":10.3,"g":"low"},{"x":9.9,"y":10.2,"g":"low"},{"x":12.7,"y":10.1,"g":"low"},{"x":13.6,"y":9.15,"g":"low"},{"x":12.9,"y":7.7,"g":"low"},{"x":17.8,"y":15.8,"g":"low"},{"x":6.6,"y":10.7,"g":"low"},{"x":7.1,"y":10.7,"g":"low"},{"x":7.8,"y":7.5,"g":"low"},{"x":6.9,"y":6.3,"g":"low"},{"x":7.3,"y":4.8,"g":"low"},{"x":4.2,"y":5.4,"g":"low"},{"x":3.3,"y":5.1,"g":"low"},{"x":3.3,"y":3.7,"g":"low"},{"x":4.7,"y":2.7,"g":"low"},{"x":3.2,"y":1.7,"g":"low"},{"x":2.35,"y":0.8,"g":"low"},{"x":1.3,"y":0.2,"g":"low"},{"x":-0.4,"y":2.95,"g":"low"},{"x":-0.3,"y":0.8,"g":"low"},{"x":0.25,"y":1.0,"g":"low"},{"x":-1.3,"y":3.15,"g":"low"},{"x":-2.7,"y":2.5,"g":"low"},{"x":-2.9,"y":0.7,"g":"low"},{"x":-1.7,"y":0.5,"g":"low"},{"x":-1.9,"y":-0.9,"g":"low"},{"x":-0.4,"y":-0.5,"g":"low"},{"x":-3.0,"y":-1.2,"g":"low"},{"x":-2.7,"y":-5.0,"g":"low"},{"x":-11.8,"y":-7.5,"g":"low"},{"x":-12.3,"y":-7.3,"g":"low"},{"x":-11.4,"y":-7.3,"g":"low"},{"x":-11.8,"y":-9.4,"g":"low"},{"x":-9.2,"y":-7.2,"g":"low"},{"x":-9.4,"y":-7.7,"g":"low"},{"x":-10.0,"y":-11.2,"g":"low"},{"x":-18.0,"y":-13.3,"g":"low"}
    ]},
    "mark":{"type":"circle","size":16,"opacity":1},
    "encoding":{
     "x":{"field":"x","type":"quantitative","scale":{"domain":[-19.7,19.7],"nice":false,"zero":false},"axis":{"values":[-10,0,10],"labelOverlap":false,"labelExpr":"replace(datum.label, '\u2212', '-')","tickSize":2.5,"tickColor":"#333333","domain":false,"labelFontSize":6,"labelColor":"#4D4D4D","labelPadding":1,"title":"tSNE1","titleFontSize":7.5,"titlePadding":0}},
     "y":{"field":"y","type":"quantitative","scale":{"domain":[-22.2,22.5],"nice":false,"zero":false},"axis":{"values":[-20,-10,0,10,20],"labelOverlap":false,"labelExpr":"replace(datum.label, '\u2212', '-')","tickSize":2.5,"tickColor":"#333333","domain":false,"labelFontSize":6,"labelColor":"#4D4D4D","labelPadding":1.5,"title":"tSNE2","titleFontSize":7.5,"titlePadding":3}},
     "color":{"field":"g","type":"nominal","scale":{"domain":["high","low"],"range":["#FF0000","#0000FF"]},"legend":{"orient":"none","legendX":165,"legendY":59,"title":"Risk","titleFontSize":7.5,"labelFontSize":6,"symbolType":"circle","symbolSize":16,"rowPadding":3,"titlePadding":5}}
    }}],"spacing":0}
  ],"columns":2,"align":"none","spacing":61}
 ],"columns":2,"align":"none","spacing":37}
],"columns":1,"align":"none","spacing":1}
